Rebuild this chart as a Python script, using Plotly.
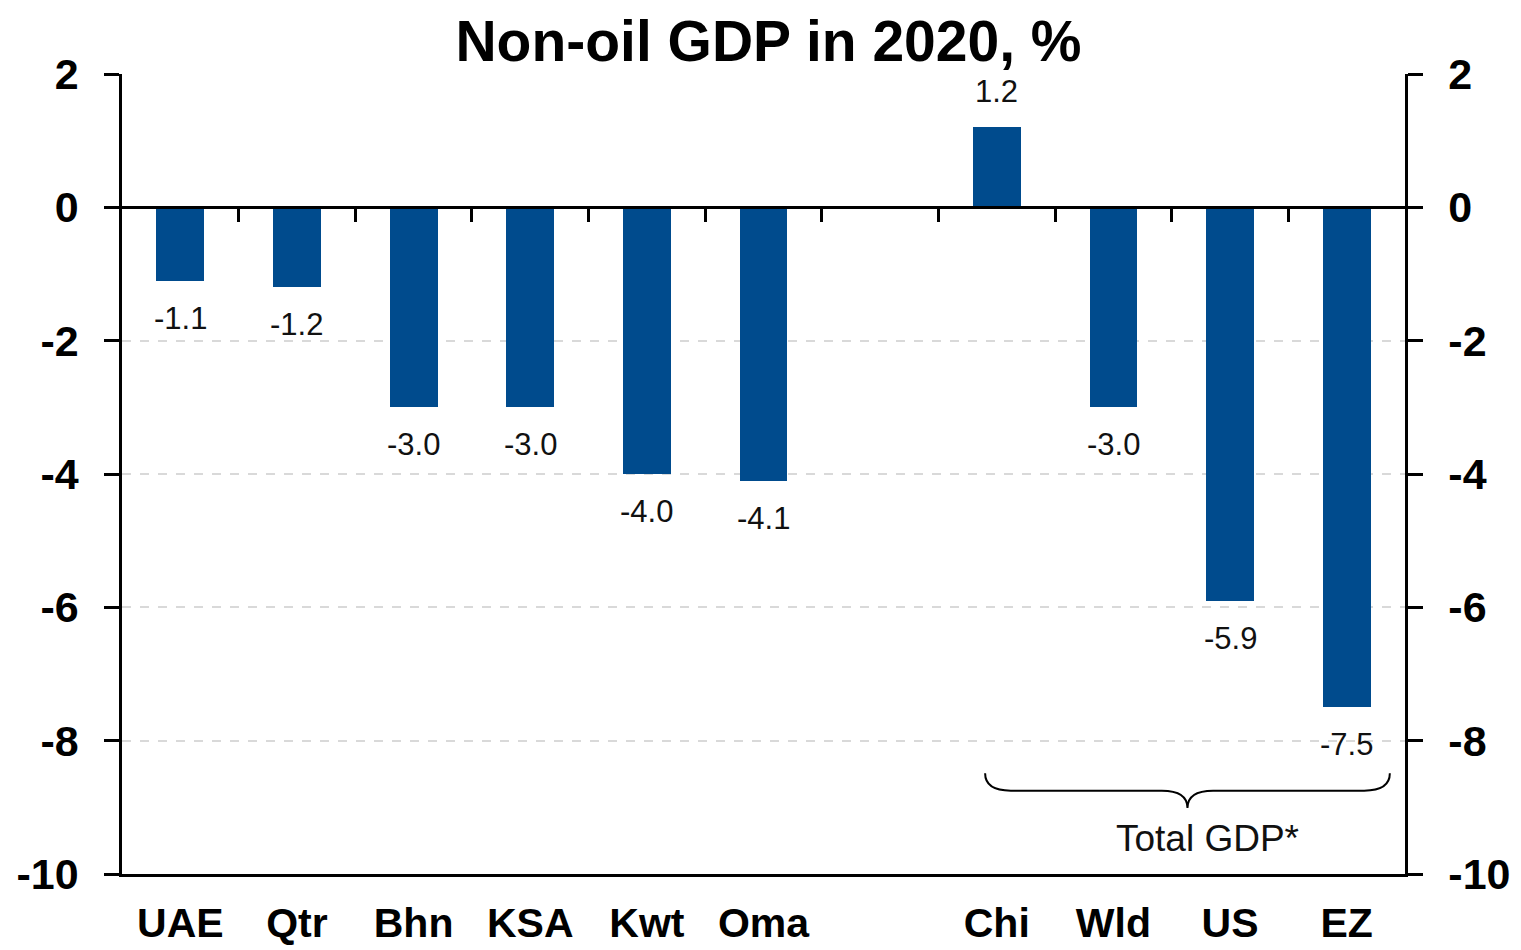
import plotly.graph_objects as go

# Data
categories = ["UAE", "Qtr", "Bhn", "KSA", "Kwt", "Oma", "", "Chi", "Wld", "US", "EZ"]
values = [-1.1, -1.2, -3.0, -3.0, -4.0, -4.1, None, 1.2, -3.0, -5.9, -7.5]
y_ticks = [2, 0, -2, -4, -6, -8, -10]
y_ticktext = [str(t) for t in y_ticks]
brace_label = "Total GDP*"
brace_from, brace_to = "Chi", "EZ"

BLUE = "#004b8d"
FONT = "Liberation Sans, Arial, sans-serif"
positions = list(range(len(categories)))

fig = go.Figure()

fig.add_trace(go.Bar(
    x=positions, y=values, width=0.41,
    marker=dict(color=BLUE, line=dict(width=0)),
    hoverinfo="skip", showlegend=False,
))

# invisible trace so the secondary axes render
fig.add_trace(go.Scatter(
    x=[positions[0]], y=[0], xaxis="x2", yaxis="y2",
    mode="markers", marker=dict(opacity=0), showlegend=False, hoverinfo="skip",
))

# value labels
for p, v in zip(positions, values):
    if v is None:
        continue
    fig.add_annotation(
        x=p, y=v, text=f"{v:.1f}", showarrow=False,
        yanchor="bottom" if v > 0 else "top",
        yshift=16 if v > 0 else -18,
        font=dict(family=FONT, size=31, color="#111"),
    )

# brace under the total-GDP group
x0 = categories.index(brace_from) - 0.1
x1 = categories.index(brace_to) + 0.37
xm = (x0 + x1) / 2
yt, yh, yb = -8.49, -8.75, -9.01
rx = 0.22
path = (f"M {x0},{yt} Q {x0},{yh} {x0 + rx},{yh} L {xm - rx},{yh} "
        f"Q {xm},{yh} {xm},{yb} Q {xm},{yh} {xm + rx},{yh} "
        f"L {x1 - rx},{yh} Q {x1},{yh} {x1},{yt}")
fig.add_shape(type="path", path=path, xref="x", yref="y",
              line=dict(color="black", width=2))
fig.add_annotation(x=xm + 0.17, y=-9.46, text=brace_label, showarrow=False,
                   font=dict(family=FONT, size=37, color="#111"))

yrange = [-10, 2]
yaxis_common = dict(
    range=yrange, tickvals=y_ticks, ticktext=y_ticktext, ticks="outside",
    ticklen=15, tickwidth=2.5, automargin=False,
    tickcolor="black", showline=True, linecolor="black", linewidth=2.5,
    tickfont=dict(family=FONT, size=43, color="black", weight="bold"),
    ticklabelstandoff=17, fixedrange=True,
)

# page body adds an 8px offset, so margins are shifted to compensate
fig.update_layout(
    width=1521, height=950,
    margin=dict(l=114, r=124, t=66, b=84),
    paper_bgcolor="white", plot_bgcolor="white",
    title=dict(text="<b>Non-oil GDP in 2020, %</b>", x=0.5, xanchor="center",
               y=1 - 33 / 950, yanchor="middle", yref="container",
               font=dict(family=FONT, size=57, color="black")),
    bargap=0,
    xaxis=dict(
        range=[-0.5, len(categories) - 0.5], tickvals=positions, ticktext=categories,
        ticks="", showline=True, linecolor="black", linewidth=2.5, showgrid=False,
        zeroline=False, automargin=False,
        tickfont=dict(family=FONT, size=41, color="black", weight="bold"),
        ticklabelstandoff=11,
    ),
    xaxis2=dict(
        overlaying="x", anchor="free", position=(0 - yrange[0]) / (yrange[1] - yrange[0]),
        range=[-0.5, len(categories) - 0.5],
        tickvals=[p + 0.5 for p in positions[:-1]],
        ticks="outside", ticklen=13, tickwidth=2.5, tickcolor="black",
        showticklabels=False, showline=True, linecolor="black", linewidth=2.5,
        showgrid=False, zeroline=False, automargin=False,
    ),
    yaxis=dict(
        **yaxis_common, side="left", showgrid=True, gridcolor="#d9d9d9",
        griddash="dash", gridwidth=2, zeroline=False,
    ),
    yaxis2=dict(
        **yaxis_common, side="right", overlaying="y", anchor="x",
        showgrid=False, zeroline=False,
    ),
)

fig.write_html("out.html")
